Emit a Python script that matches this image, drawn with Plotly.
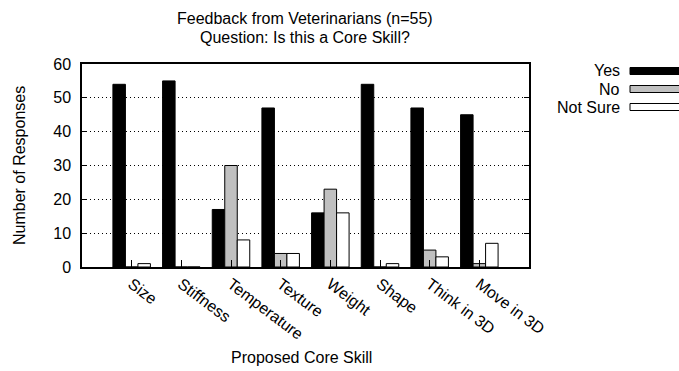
import plotly.graph_objects as go

# Survey responses per proposed core skill
skills = ["Size", "Stiffness", "Temperature", "Texture", "Weight",
          "Shape", "Think in 3D", "Move in 3D"]
yes = [54, 55, 17, 47, 16, 54, 47, 45]
no = [0, 0, 30, 4, 23, 0, 5, 1]
not_sure = [1, 0, 8, 4, 16, 1, 3, 7]

series_names = ["Yes", "No", "Not Sure"]
series_values = [yes, no, not_sure]
fills = ["#000000", "#c0c0c0", "#ffffff"]

title_lines = ["Feedback from Veterinarians (n=55)",
               "Question: Is this a Core Skill?"]

FONT = "Liberation Sans, Arial, sans-serif"
FS = 16

W, H = 679, 371
L, R, T, B = 82, 150, 64, 104
PW = W - L - R
PH = H - T - B


def px(x):
    return (x - L) / PW


def py(y):
    return (H - B - y) / PH


fig = go.Figure()
x_idx = list(range(len(skills)))
for name, vals, col in zip(series_names, series_values, fills):
    fig.add_trace(go.Bar(
        x=x_idx, y=vals, name=name,
        marker=dict(color=col, line=dict(color="#000000", width=1)),
        showlegend=False,
    ))

fig.update_layout(
    width=W, height=H,
    margin=dict(l=L, r=R, t=T, b=B, pad=0),
    paper_bgcolor="white", plot_bgcolor="white",
    barmode="group", bargap=0.245, bargroupgap=0,
    font=dict(family=FONT, size=FS, color="#000000"),
)

fig.update_xaxes(
    range=[-1, len(skills)],
    tickmode="array", tickvals=x_idx, ticktext=skills,
    tickangle=37,
    ticks="inside", ticklen=7, tickwidth=1, tickcolor="#000000",
    showline=True, linecolor="#000000", linewidth=1.5, mirror=True,
    showgrid=False, zeroline=False,
    tickfont=dict(family=FONT, size=FS),
)
fig.update_yaxes(
    range=[0, 60], dtick=10,
    ticks="inside", ticklen=5, tickwidth=1, tickcolor="#000000",
    showline=True, linecolor="#000000", linewidth=1.5, mirror="ticks",
    showgrid=True, gridcolor="#000000", gridwidth=1, griddash="1px,3px",
    zeroline=False, ticklabelstandoff=6,
    tickfont=dict(family=FONT, size=FS),
)

# Two-line title
for text, cy in zip(title_lines, [19, 37.5]):
    fig.add_annotation(
        text=text, x=px(305), y=py(cy), xref="paper", yref="paper",
        xanchor="center", yanchor="middle", showarrow=False,
        font=dict(family=FONT, size=FS),
    )

# Axis titles
fig.add_annotation(
    text="Number of Responses", textangle=-90,
    x=px(19.5), y=py(165.5), xref="paper", yref="paper",
    xanchor="center", yanchor="middle", showarrow=False,
    font=dict(family=FONT, size=FS),
)
fig.add_annotation(
    text="Proposed Core Skill",
    x=px(301), y=py(357), xref="paper", yref="paper",
    xanchor="center", yanchor="middle", showarrow=False,
    font=dict(family=FONT, size=FS),
)

# Key: labels right-aligned, swatches to the right
key_y = [71, 89, 107]
for name, col, ky in zip(series_names, fills, key_y):
    fig.add_annotation(
        text=name, x=px(622), y=py(ky),
        xref="paper", yref="paper", xanchor="right", yanchor="middle",
        showarrow=False, font=dict(family=FONT, size=FS),
    )
    fig.add_shape(
        type="rect", xref="paper", yref="paper",
        x0=px(630), x1=px(700),
        y0=py(ky + 3.5), y1=py(ky - 3.5),
        fillcolor=col, line=dict(color="#000000", width=1),
    )

fig.write_html("out.html")
